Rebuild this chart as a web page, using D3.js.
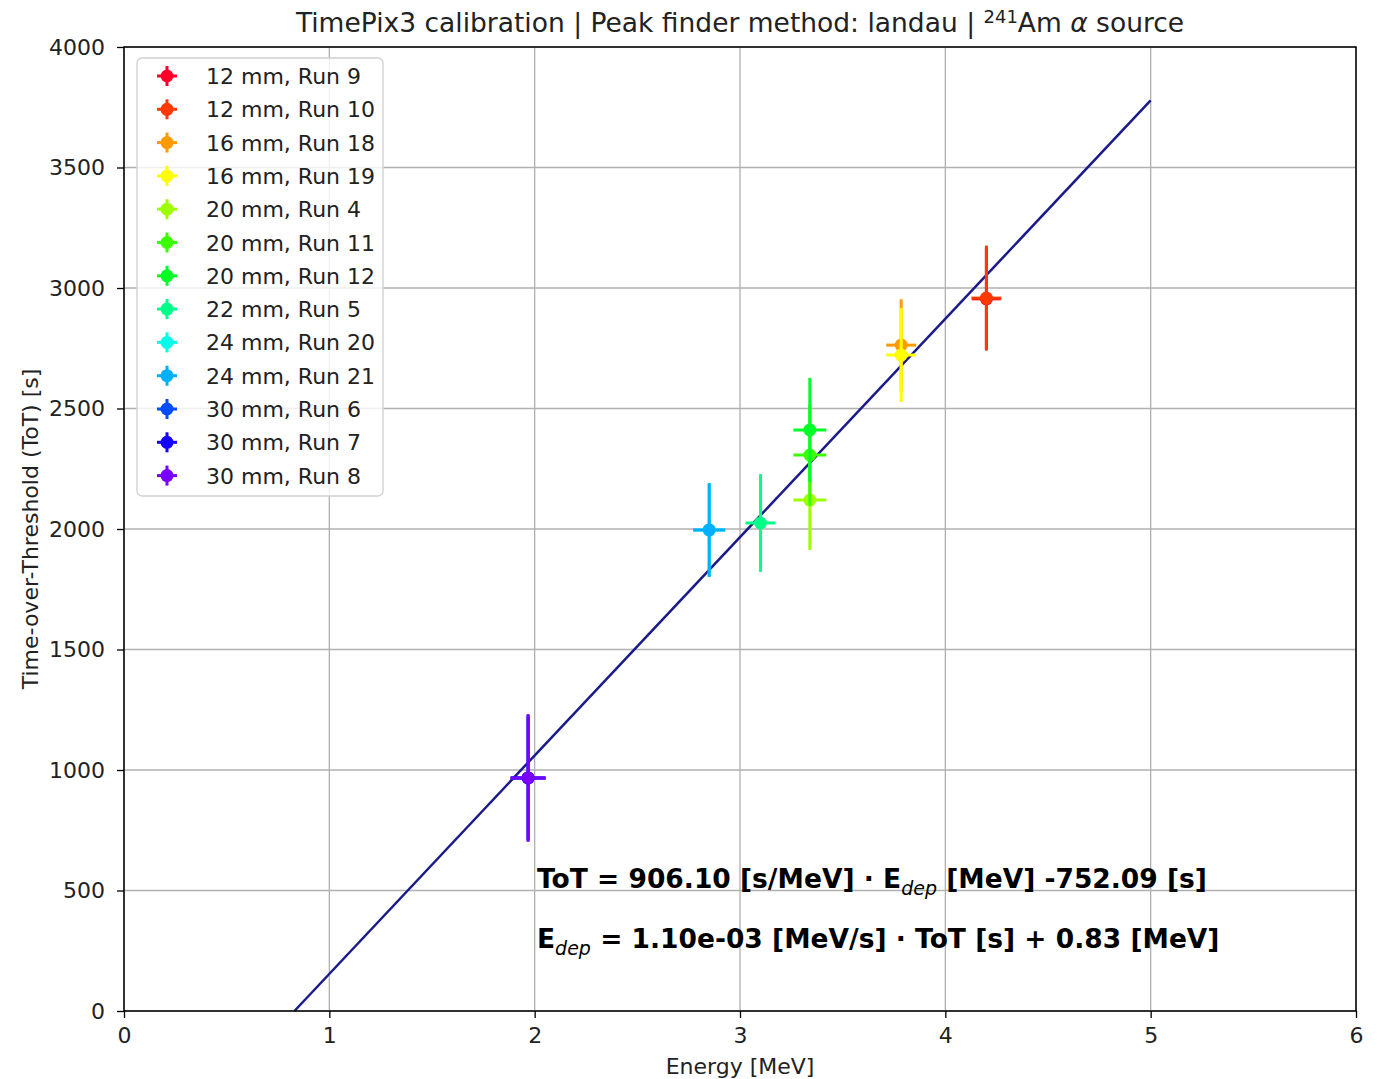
<!DOCTYPE html>
<html>
<head>
<meta charset="utf-8">
<script src="https://cdn.jsdelivr.net/npm/d3@7"></script>
<style>
  body { margin: 0; background: #fff; }
  svg { display: block; font-family: "DejaVu Sans", sans-serif; }
</style>
</head>
<body>
<div id="chart"></div>
<script>
// data
const runLabels = [
  "12 mm, Run 9", "12 mm, Run 10", "16 mm, Run 18", "16 mm, Run 19",
  "20 mm, Run 4", "20 mm, Run 11", "20 mm, Run 12", "22 mm, Run 5",
  "24 mm, Run 20", "24 mm, Run 21", "30 mm, Run 6", "30 mm, Run 7", "30 mm, Run 8"
];
const runColors = [
  "#ff0029", "#ff3900", "#ff9b00", "#fffe00", "#9eff00", "#3bff00", "#00ff27",
  "#00ff89", "#00ffeb", "#00b0ff", "#004dff", "#1600ff", "#7900ff"
];
const energy = [4.20, 4.20, 3.785, 3.785, 3.34, 3.34, 3.34, 3.10, 2.85, 2.85, 1.968, 1.968, 1.968];
const energyErr = [0.07, 0.073, 0.073, 0.073, 0.08, 0.08, 0.08, 0.073, 0.078, 0.078, 0.085, 0.085, 0.085];
const tot = [2955, 2958, 2763, 2722, 2120, 2307, 2411, 2025, 1996, 1996, 967, 967, 967];
const totErr = [210, 218, 190, 195, 207, 210, 216, 203, 190, 195, 255, 260, 265];

const fitSlope = 906.10;
const fitIntercept = -752.09;
const fitRange = [0.83, 5.0];

const xTicks = [0, 1, 2, 3, 4, 5, 6];
const yTicks = [0, 500, 1000, 1500, 2000, 2500, 3000, 3500, 4000];

const width = 1381;
const height = 1079;
const margin = { top: 47, right: 25, bottom: 68, left: 124 };
const innerW = width - margin.left - margin.right;
const innerH = height - margin.top - margin.bottom;

const svg = d3.select("#chart")
  .append("svg")
  .attr("width", width)
  .attr("height", height);

svg.append("rect").attr("width", width).attr("height", height).attr("fill", "#fff");

const g = svg.append("g").attr("transform", `translate(${margin.left},${margin.top})`);

const x = d3.scaleLinear().domain([0, 6]).range([0, innerW]);
const y = d3.scaleLinear().domain([0, 4000]).range([innerH, 0]);

// grid
g.append("g")
  .selectAll("line")
  .data(xTicks)
  .enter()
  .append("line")
  .attr("x1", (d) => x(d)).attr("x2", (d) => x(d))
  .attr("y1", 0).attr("y2", innerH)
  .attr("stroke", "#b0b0b0").attr("stroke-width", 1.3);

g.append("g")
  .selectAll("line")
  .data(yTicks)
  .enter()
  .append("line")
  .attr("y1", (d) => y(d)).attr("y2", (d) => y(d))
  .attr("x1", 0).attr("x2", innerW)
  .attr("stroke", "#b0b0b0").attr("stroke-width", 1.3);

// fit line
g.append("line")
  .attr("x1", x(fitRange[0]))
  .attr("y1", y(fitSlope * fitRange[0] + fitIntercept))
  .attr("x2", x(fitRange[1]))
  .attr("y2", y(fitSlope * fitRange[1] + fitIntercept))
  .attr("stroke", "#1a1a8a")
  .attr("stroke-width", 2.5);

// error bars + markers, in legend order so later runs sit on top
const points = runLabels.map((label, i) => ({
  label, color: runColors[i], e: energy[i], ee: energyErr[i], t: tot[i], te: totErr[i]
}));

const pts = g.append("g")
  .selectAll("g")
  .data(points)
  .enter()
  .append("g");

pts.append("line")
  .attr("x1", (d) => x(d.e)).attr("x2", (d) => x(d.e))
  .attr("y1", (d) => y(d.t - d.te)).attr("y2", (d) => y(d.t + d.te))
  .attr("stroke", (d) => d.color).attr("stroke-width", 3);

pts.append("line")
  .attr("x1", (d) => x(d.e - d.ee)).attr("x2", (d) => x(d.e + d.ee))
  .attr("y1", (d) => y(d.t)).attr("y2", (d) => y(d.t))
  .attr("stroke", (d) => d.color).attr("stroke-width", 3);

pts.append("circle")
  .attr("cx", (d) => x(d.e)).attr("cy", (d) => y(d.t))
  .attr("r", 6.5)
  .attr("fill", (d) => d.color);

// axes
const xAxis = g.append("g")
  .attr("transform", `translate(0,${innerH})`)
  .call(d3.axisBottom(x).tickValues(xTicks).tickFormat(d3.format("d")).tickSize(7).tickPadding(9));

const yAxis = g.append("g")
  .call(d3.axisLeft(y).tickValues(yTicks).tickFormat(d3.format("d")).tickSize(7).tickPadding(12));

[xAxis, yAxis].forEach((ax) => {
  ax.select(".domain").remove();
  ax.selectAll("line").attr("stroke", "#000").attr("stroke-width", 1.3);
  ax.selectAll("text")
    .attr("fill", "#222")
    .style("font-size", "22px")
    .style("font-family", "DejaVu Sans, sans-serif");
});

// frame
g.append("rect")
  .attr("width", innerW).attr("height", innerH)
  .attr("fill", "none").attr("stroke", "#000").attr("stroke-width", 1.5);

// axis labels
svg.append("text")
  .attr("x", margin.left + innerW / 2)
  .attr("y", 1074)
  .attr("text-anchor", "middle")
  .attr("fill", "#222")
  .style("font-size", "22px")
  .text("Energy [MeV]");

svg.append("text")
  .attr("transform", `translate(38,${margin.top + innerH / 2}) rotate(-90)`)
  .attr("text-anchor", "middle")
  .attr("fill", "#222")
  .style("font-size", "22px")
  .text("Time-over-Threshold (ToT) [s]");

// title
const title = svg.append("text")
  .attr("x", margin.left + innerW / 2)
  .attr("y", 32)
  .attr("text-anchor", "middle")
  .attr("fill", "#222")
  .style("font-size", "26.5px");
title.append("tspan").text("TimePix3 calibration | Peak finder method: landau | ");
title.append("tspan").attr("dy", -9).style("font-size", "18px").text("241");
title.append("tspan").attr("dy", 9).text("Am ");
title.append("tspan").style("font-style", "italic").text("α");
title.append("tspan").text(" source");

// fit annotation
const ann1 = svg.append("text")
  .attr("x", 537).attr("y", 888)
  .style("font-size", "26.5px").style("font-weight", "bold");
ann1.append("tspan").text("ToT = 906.10 [s/MeV] · E");
ann1.append("tspan").attr("dy", 7).style("font-size", "19px").style("font-weight", "normal")
  .style("font-style", "italic").text("dep");
ann1.append("tspan").attr("dy", -7).text(" [MeV] -752.09 [s]");

const ann2 = svg.append("text")
  .attr("x", 537).attr("y", 948)
  .style("font-size", "26.5px").style("font-weight", "bold");
ann2.append("tspan").text("E");
ann2.append("tspan").attr("dy", 7).style("font-size", "19px").style("font-weight", "normal")
  .style("font-style", "italic").text("dep");
ann2.append("tspan").attr("dy", -7).text(" = 1.10e-03 [MeV/s] · ToT [s] + 0.83 [MeV]");

// legend
const legend = svg.append("g").attr("transform", "translate(137,58)");
legend.append("rect")
  .attr("width", 246).attr("height", 438)
  .attr("rx", 5)
  .attr("fill", "rgba(255,255,255,0.8)")
  .attr("stroke", "#d0d0d0").attr("stroke-width", 1.3);

const rows = legend.selectAll("g.row")
  .data(points)
  .enter()
  .append("g")
  .attr("class", "row")
  .attr("transform", (d, i) => `translate(30,${18 + i * 33.3})`);

rows.append("line")
  .attr("x1", 0).attr("x2", 0).attr("y1", -10).attr("y2", 10)
  .attr("stroke", (d) => d.color).attr("stroke-width", 3);
rows.append("line")
  .attr("x1", -10).attr("x2", 10).attr("y1", 0).attr("y2", 0)
  .attr("stroke", (d) => d.color).attr("stroke-width", 3);
rows.append("circle").attr("r", 6.5).attr("fill", (d) => d.color);

rows.append("text")
  .attr("x", 39).attr("y", 8)
  .style("font-size", "22px")
  .attr("fill", "#222")
  .text((d) => d.label);
</script>
</body>
</html>
